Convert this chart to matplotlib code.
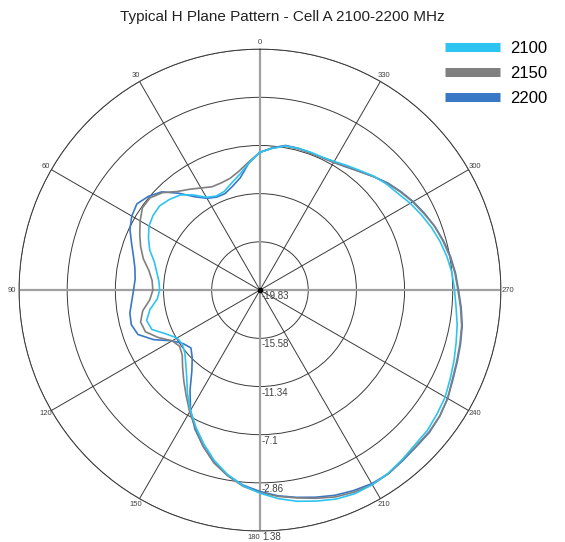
import numpy as np
import matplotlib
matplotlib.use('Agg')
import matplotlib.pyplot as plt
from matplotlib.lines import Line2D
from matplotlib.transforms import offset_copy

plt.rcParams['font.family'] = ['Liberation Sans', 'DejaVu Sans']

# azimuth in degrees, counter-clockwise from the top
angles_deg = list(range(0, 360, 5))

# gain (dB) per azimuth for each frequency
gain_2100 = [
    -7.7, -8.6, -9.5, -10.1, -10.6, -10.7,
    -10.4, -9.6, -8.9, -8.55, -8.3, -8.35,
    -8.55, -9.0, -9.5, -10.2, -10.6, -10.9,
    -11.0, -10.75, -10.0, -9.5, -9.7, -10.7,
    -11.4, -11.5, -11.2, -10.6, -9.8, -8.7,
    -7.6, -6.5, -5.4, -4.3, -3.35, -2.55,
    -1.95, -1.4, -0.95, -0.6, -0.25, -0.05,
    -0.05, -0.15, -0.35, -0.55, -0.6, -0.8,
    -1.0, -1.35, -1.65, -1.95, -2.2, -2.5,
    -2.7, -2.85, -3.1, -3.4, -3.75, -4.15,
    -4.55, -5.0, -5.3, -5.65, -6.1, -6.45,
    -6.75, -6.9, -6.9, -6.9, -6.95, -7.3,
]
gain_2150 = [
    -7.7, -8.5, -9.2, -9.65, -9.8, -9.8,
    -9.45, -9.0, -8.5, -7.7, -7.2, -7.2,
    -7.65, -8.15, -8.65, -9.2, -9.9, -10.3,
    -10.4, -10.1, -9.35, -8.95, -9.1, -9.95,
    -10.9, -11.2, -10.9, -10.2, -9.4, -8.5,
    -7.45, -6.4, -5.2, -4.1, -3.25, -2.5,
    -2.0, -1.6, -1.25, -0.85, -0.45, -0.2,
    -0.05, -0.1, -0.3, -0.4, -0.4, -0.5,
    -0.75, -1.15, -1.4, -1.6, -1.8, -2.1,
    -2.4, -2.6, -2.85, -3.15, -3.45, -3.9,
    -4.3, -4.75, -5.2, -5.7, -6.2, -6.55,
    -6.85, -6.95, -7.0, -6.95, -6.95, -7.3,
]
gain_2200 = [
    -7.7, -8.6, -9.8, -10.4, -10.8, -10.8,
    -10.5, -9.8, -8.7, -7.6, -7.0, -6.6,
    -6.8, -7.2, -7.8, -8.3, -8.65, -8.8,
    -8.7, -8.5, -8.2, -8.1, -8.4, -9.5,
    -10.9, -11.6, -11.9, -11.4, -10.5, -9.1,
    -7.6, -6.3, -5.2, -4.15, -3.3, -2.6,
    -2.1, -1.65, -1.3, -0.95, -0.6, -0.35,
    -0.15, -0.1, -0.25, -0.35, -0.35, -0.5,
    -0.75, -1.1, -1.35, -1.55, -1.75, -2.05,
    -2.35, -2.55, -2.8, -3.1, -3.45, -3.85,
    -4.25, -4.7, -5.15, -5.7, -6.2, -6.6,
    -6.85, -6.95, -6.95, -6.9, -6.9, -7.25,
]

r_ticks = [-19.83, -15.58, -11.34, -7.1, -2.86, 1.38]
r_labels = ['-19.83', '-15.58', '-11.34', '-7.1', '-2.86', '1.38']
spoke_deg = list(range(0, 360, 30))

series = [
    ('2100', gain_2100, '#2ec4f2'),
    ('2150', gain_2150, '#808080'),
    ('2200', gain_2200, '#3a78c6'),
]

fig = plt.figure(figsize=(5.65, 5.42), dpi=100)
ax = fig.add_axes([0.0336, 0.0203, 0.853, 0.889], projection='polar')
ax.set_theta_zero_location('N')
ax.set_theta_direction(1)
ax.set_ylim(r_ticks[0], r_ticks[-1])

ax.set_xticks(np.radians(spoke_deg))
ax.set_xticklabels([])
ax.set_yticks(r_ticks)
ax.set_yticklabels([])
ax.grid(True, color='#3a3a3a', linewidth=0.7)
ax.spines['polar'].set_color('#3a3a3a')
ax.spines['polar'].set_linewidth(0.7)

# main axes through the centre
for a in [0, 90, 180, 270]:
    t = np.radians(a)
    ax.plot([t, t], [r_ticks[0], r_ticks[-1]], color='#a0a0a0', lw=1.6, zorder=2)
ax.plot([0], [r_ticks[0]], 'o', color='black', ms=3, zorder=3)

# patterns, closed round the circle
for name, gain, color in reversed(series):
    th = np.radians(angles_deg + [angles_deg[0]])
    g = gain + [gain[0]]
    ax.plot(th, g, color=color, lw=1.2, zorder=4)

# angle labels just outside the rim
for a in spoke_deg:
    if a == 180:
        ax.text(np.pi, r_ticks[-1] + 0.55, '180', fontsize=5.5, color='#404040',
                ha='right', va='center')
        continue
    ax.text(np.radians(a), r_ticks[-1] + 0.6, str(a), fontsize=5.5,
            color='#404040', ha='center', va='center')

# radial labels along the 180 spoke
lab_tr = offset_copy(ax.transData, fig=fig, x=2, y=-1, units='dots')
for v, s in zip(r_ticks, r_labels):
    ax.text(np.pi, v, s, transform=lab_tr, fontsize=7, color='#404040',
            ha='left', va='top')

fig.text(0.5, 0.968, 'Typical H Plane Pattern - Cell A 2100-2200 MHz',
         ha='center', va='center', fontsize=11, color='#222222')

handles = [Line2D([], [], color=c, lw=6.5, solid_capstyle='butt') for _, _, c in series]
fig.legend(handles, [n for n, _, _ in series], loc='upper left',
           bbox_to_anchor=(445 / 565, 1 - 41 / 542), frameon=False,
           fontsize=12, handlelength=3.3, handletextpad=0.6,
           labelspacing=0.6, borderpad=0, borderaxespad=0)

fig.savefig('out.png', dpi=100)
